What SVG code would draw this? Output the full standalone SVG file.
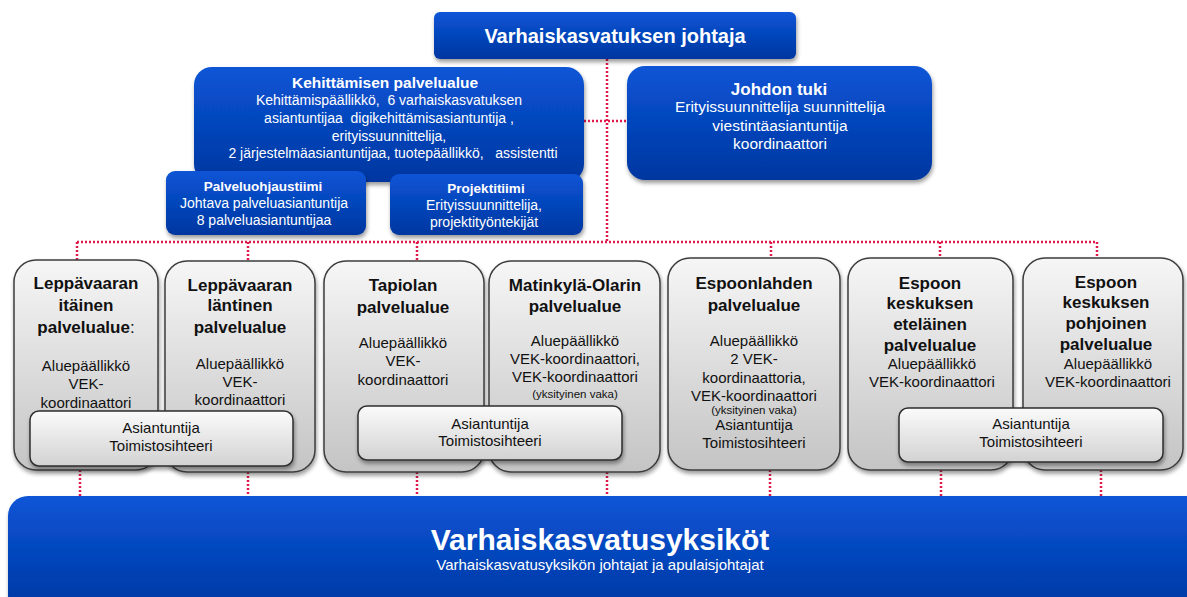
<svg xmlns="http://www.w3.org/2000/svg" width="1187" height="597" viewBox="0 0 1187 597">
<defs>
<linearGradient id="gBlue" x1="0" y1="0" x2="0" y2="1"><stop offset="0" stop-color="#0a55d6"/><stop offset="1" stop-color="#0036a0"/></linearGradient>
<linearGradient id="gGray" x1="0" y1="0" x2="0" y2="1"><stop offset="0" stop-color="#f6f6f6"/><stop offset="1" stop-color="#c4c4c4"/></linearGradient>
<linearGradient id="gSub" x1="0" y1="0" x2="0" y2="1"><stop offset="0" stop-color="#fbfbfb"/><stop offset="1" stop-color="#d2d2d2"/></linearGradient>
<filter id="sh" x="-10%" y="-10%" width="120%" height="130%"><feGaussianBlur in="SourceAlpha" stdDeviation="2"/><feOffset dx="1" dy="3" result="b"/><feComponentTransfer><feFuncA type="linear" slope="0.4"/></feComponentTransfer><feMerge><feMergeNode/><feMergeNode in="SourceGraphic"/></feMerge></filter>
</defs>
<style>
.blue{fill:url(#gBlue);filter:url(#sh)}
.gray{fill:url(#gGray);stroke:#3c3c3c;stroke-width:1.5;filter:url(#sh)}
.sub{fill:url(#gSub);stroke:#2e2e2e;stroke-width:1.5;filter:url(#sh)}
text{font-family:"Liberation Sans",Arial,sans-serif;text-anchor:middle;white-space:pre}
.w{fill:#ffffff}
.k{fill:#111111}
.b{font-weight:bold}
.dot{fill:none;stroke:#e0194a;stroke-width:2.5;stroke-dasharray:2 2}
</style>
<g id="connectors">
<path class="dot" d="M607 59 V242 M584 121 H627 M77 242 H1097 M77 242 V260 M248 242 V261 M417 242 V261 M771 242 V258 M940 242 V258 M1097 242 V258"/>
<path class="dot" d="M80 470 V496 M248 472 V496 M417 472 V496 M607 472 V496 M770 470 V496 M941 470 V496 M1101 470 V496"/>
</g>
<g id="top">
<rect class="blue" x="434" y="12" width="362" height="47" rx="6"/>
<text class="w b" x="615" y="43" font-size="20">Varhaiskasvatuksen johtaja</text>
</g>
<g id="kehittaminen">
<rect class="blue" x="194" y="67" width="390" height="115" rx="18"/>
<text class="w b" x="385" y="88" font-size="15.5">Kehittämisen palvelualue</text>
<text class="w" font-size="14"><tspan x="389" y="105">Kehittämispäällikkö,  6 varhaiskasvatuksen</tspan><tspan x="389" y="123">asiantuntijaa  digikehittämisasiantuntija ,</tspan><tspan x="389" y="141">erityissuunnittelija,</tspan><tspan x="393" y="158">2 järjestelmäasiantuntijaa, tuotepäällikkö,   assistentti</tspan></text>
</g>
<g id="johdon">
<rect class="blue" x="627" y="66" width="305" height="114" rx="18"/>
<text class="w b" x="779" y="95" font-size="17">Johdon tuki</text>
<text class="w" font-size="15.5"><tspan x="780" y="112">Erityissuunnittelija suunnittelija</tspan><tspan x="780" y="131">viestintäasiantuntija</tspan><tspan x="780" y="149">koordinaattori</tspan></text>
</g>
<g id="palveluohjaus">
<rect class="blue" x="166" y="171" width="200" height="64" rx="9"/>
<text class="w b" x="263" y="191" font-size="13.5">Palveluohjaustiimi</text>
<text class="w" font-size="14"><tspan x="264" y="208">Johtava palveluasiantuntija</tspan><tspan x="264" y="225">8 palveluasiantuntijaa</tspan></text>
</g>
<g id="projekti">
<rect class="blue" x="390" y="174" width="193" height="61" rx="9"/>
<text class="w b" x="486" y="193" font-size="13.5">Projektitiimi</text>
<text class="w" font-size="14"><tspan x="484" y="210">Erityissuunnittelija,</tspan><tspan x="484" y="227">projektityöntekijät</tspan></text>
</g>
<g id="lep-itainen">
<rect class="gray" x="14" y="260" width="144" height="210" rx="22"/>
<text class="k b" font-size="17"><tspan x="86" y="289">Leppävaaran</tspan><tspan x="86" y="311">itäinen</tspan><tspan x="86" y="333">palvelualue<tspan font-weight="normal">:</tspan></tspan></text>
<text class="k" font-size="15"><tspan x="86" y="371">Aluepäällikkö</tspan><tspan x="86" y="389">VEK-</tspan><tspan x="86" y="408">koordinaattori</tspan></text>
</g>
<g id="lep-lantinen">
<rect class="gray" x="165" y="261" width="150" height="211" rx="22"/>
<text class="k b" font-size="17"><tspan x="240" y="291">Leppävaaran</tspan><tspan x="240" y="311">läntinen</tspan><tspan x="240" y="333">palvelualue</tspan></text>
<text class="k" font-size="15"><tspan x="240" y="369">Aluepäällikkö</tspan><tspan x="240" y="387">VEK-</tspan><tspan x="240" y="405">koordinaattori</tspan></text>
</g>
<g id="tapiola">
<rect class="gray" x="324" y="261" width="160" height="211" rx="22"/>
<text class="k b" font-size="17"><tspan x="403" y="291">Tapiolan</tspan><tspan x="403" y="313">palvelualue</tspan></text>
<text class="k" font-size="15"><tspan x="403" y="348">Aluepäällikkö</tspan><tspan x="403" y="366">VEK-</tspan><tspan x="403" y="385">koordinaattori</tspan></text>
</g>
<g id="matinkyla">
<rect class="gray" x="489" y="261" width="171" height="211" rx="22"/>
<text class="k b" font-size="17"><tspan x="575" y="291">Matinkylä-Olarin</tspan><tspan x="575" y="312">palvelualue</tspan></text>
<text class="k" font-size="15"><tspan x="575" y="346">Aluepäällikkö</tspan><tspan x="575" y="364">VEK-koordinaattori,</tspan><tspan x="575" y="382">VEK-koordinaattori</tspan></text>
<text class="k" font-size="11.5" x="575" y="398">(yksityinen vaka)</text>
</g>
<g id="espoonlahti">
<rect class="gray" x="668" y="258" width="172" height="212" rx="22"/>
<text class="k b" font-size="17"><tspan x="754" y="289">Espoonlahden</tspan><tspan x="754" y="311">palvelualue</tspan></text>
<text class="k" font-size="15"><tspan x="754" y="346">Aluepäällikkö</tspan><tspan x="754" y="364">2 VEK-</tspan><tspan x="754" y="383">koordinaattoria,</tspan><tspan x="754" y="401">VEK-koordinaattori</tspan></text>
<text class="k" font-size="11.5" x="754" y="414">(yksityinen vaka)</text>
<text class="k" font-size="15"><tspan x="754" y="430">Asiantuntija</tspan><tspan x="754" y="448">Toimistosihteeri</tspan></text>
</g>
<g id="keskus-etelainen">
<rect class="gray" x="848" y="258" width="165" height="212" rx="22"/>
<text class="k b" font-size="17"><tspan x="930" y="289">Espoon</tspan><tspan x="930" y="309">keskuksen</tspan><tspan x="930" y="330">eteläinen</tspan><tspan x="930" y="351">palvelualue</tspan></text>
<text class="k" font-size="15"><tspan x="932" y="369">Aluepäällikkö</tspan><tspan x="932" y="387">VEK-koordinaattori</tspan></text>
</g>
<g id="keskus-pohjoinen">
<rect class="gray" x="1023" y="258" width="160" height="212" rx="22"/>
<text class="k b" font-size="17"><tspan x="1106" y="288">Espoon</tspan><tspan x="1106" y="308">keskuksen</tspan><tspan x="1106" y="329">pohjoinen</tspan><tspan x="1106" y="350">palvelualue</tspan></text>
<text class="k" font-size="15"><tspan x="1108" y="369">Aluepäällikkö</tspan><tspan x="1108" y="387">VEK-koordinaattori</tspan></text>
</g>
<g id="tuki-lep">
<rect class="sub" x="30" y="411" width="263" height="55" rx="9"/>
<text class="k" font-size="15"><tspan x="161" y="433">Asiantuntija</tspan><tspan x="161" y="451">Toimistosihteeri</tspan></text>
</g>
<g id="tuki-tap">
<rect class="sub" x="358" y="406" width="264" height="54" rx="9"/>
<text class="k" font-size="15"><tspan x="490" y="429">Asiantuntija</tspan><tspan x="490" y="446">Toimistosihteeri</tspan></text>
</g>
<g id="tuki-esp">
<rect class="sub" x="899" y="408" width="264" height="54" rx="9"/>
<text class="k" font-size="15"><tspan x="1031" y="429">Asiantuntija</tspan><tspan x="1031" y="447">Toimistosihteeri</tspan></text>
</g>
<g id="yksikot">
<rect class="blue" x="8" y="496" width="1200" height="120" rx="20"/>
<text class="w b" x="600" y="550" font-size="30">Varhaiskasvatusyksiköt</text>
<text class="w" x="600" y="570" font-size="15">Varhaiskasvatusyksikön johtajat ja apulaisjohtajat</text>
</g>
</svg>
